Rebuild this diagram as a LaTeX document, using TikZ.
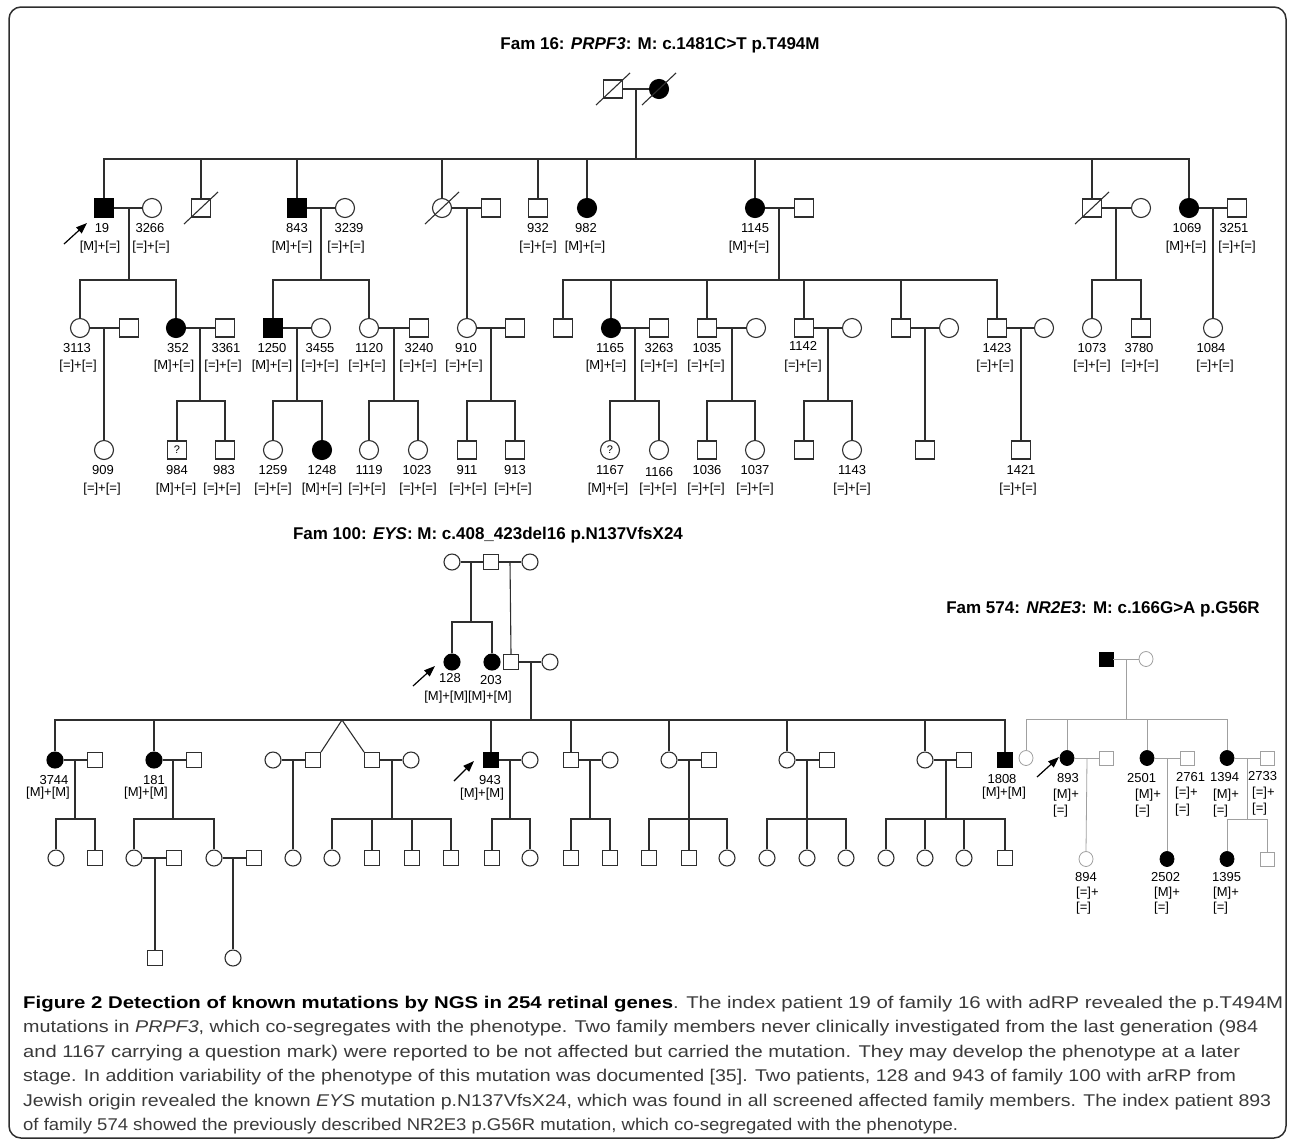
\documentclass[tikz,border=0pt]{standalone}
\usepackage{fontspec}
\setmainfont{Liberation Sans}
\usetikzlibrary{shapes.geometric,arrows.meta}
\definecolor{ln}{HTML}{2E2E2E}
\definecolor{lg}{HTML}{A0A0A0}
\definecolor{capc}{HTML}{3A3A3A}
\tikzset{
 ped/.style={line width=1.1pt, draw=ln},
 gped/.style={line width=0.8pt, draw=lg},
 M/.style={rectangle, draw=ln, line width=1.1pt, minimum width=19pt, minimum height=18pt, inner sep=0pt, fill=white},
 F/.style={ellipse, draw=ln, line width=1.1pt, minimum width=19pt, minimum height=19pt, inner sep=0pt, fill=white},
 aff/.style={fill=black, draw=black},
 Ms/.style={M, minimum width=15pt, minimum height=15pt},
 Fs/.style={F, minimum width=16pt, minimum height=16pt},
 Mg/.style={M, draw=lg, line width=0.8pt, minimum width=14pt, minimum height=14pt},
 Fg/.style={F, draw=lg, line width=0.8pt, minimum width=14pt, minimum height=15pt},
 lab/.style={font=\fontsize{13}{13}\selectfont, inner sep=0pt, text=black},
 labw/.style={lab, anchor=west},
 ttl/.style={font=\fontsize{17}{17}\selectfont\bfseries, inner sep=0pt},
 pro/.style={-{Triangle[length=11pt,width=8pt]}, line width=1.2pt, draw=black, fill=black},
 qm/.style={font=\fontsize{11}{11}\selectfont},
 capn/.style={anchor=base west, inner sep=0pt, text=capc},
}
\newlength\capw
\newcommand\capfnt{\fontsize{17}{24}\selectfont}
\newcommand\fitline[2]{\settowidth\capw{\capfnt #2}\pgfmathsetmacro\capsx{#1/\capw}\scalebox{\capsx}[1]{\capfnt #2}}
\newcommand\IL[6]{\node[lab] (n#1) at (#2,#4) {#1}; \node[lab] (g#1) at (#3,#5) {#6};}
\newcommand\ILC[8]{\node[labw] (n#1) at (#2,#3) {#1}; \node[labw] (g#1) at (#4,#5) {#6}; \node[labw] (h#1) at (#4,#7) {#8};}
\newcommand\dead[1]{\draw[ped] ([shift={(-17,16)}]#1.center) -- ([shift={(17,-16)}]#1.center);}
\begin{document}
\begin{tikzpicture}[x=1pt,y=-1pt]
\useasboundingbox (0,0) rectangle (1292,1144);
\draw[line width=1.5pt, draw=ln, rounded corners=12pt] (9,7) rectangle (1286,1138);

% ================= Fam 16 =================
\node[ttl] (t16) at (660,45) {Fam 16: \textit{PRPF3}: M: c.1481C>T p.T494M};
% generation I
\node[M] (A0m) at (613,89) {};
\node[F,aff] (A0f) at (659,89) {};
\draw[ped] (A0m) -- (A0f);
\dead{A0m} \dead{A0f}
\coordinate (mA0) at (636,89); \coordinate (sA0) at (636,159);
% generation II
\node[M,aff] (A19) at (104,208) {};
\node[F] (A3266) at (152,208) {};
\node[M] (Ad1) at (201,208) {};
\node[M,aff] (A843) at (297,208) {};
\node[F] (A3239) at (345,208) {};
\node[F] (Ad2) at (442,208) {};
\node[M] (Ax2) at (491,208) {};
\node[M] (A932) at (538,208) {};
\node[F,aff] (A982) at (587,208) {};
\node[F,aff] (A1145) at (755,208) {};
\node[M] (Ax3) at (804,208) {};
\node[M] (Ad3) at (1092,208) {};
\node[F] (Ax4) at (1141,208) {};
\node[F,aff] (A1069) at (1189,208) {};
\node[M] (A3251) at (1237,208) {};
\dead{Ad1} \dead{Ad2} \dead{Ad3}
\draw[ped] (mA0) -- (sA0);
\draw[ped] (A19.north) |- (sA0) -| (A1069.north);
\foreach \n in {Ad1,A843,Ad2,A932,A982,A1145,Ad3} \draw[ped] (\n.north) -- (\n.north |- sA0);
\draw[ped] (A19) -- (A3266);
\draw[ped] (A843) -- (A3239);
\draw[ped] (Ad2) -- (Ax2);
\draw[ped] (A1145) -- (Ax3);
\draw[ped] (Ad3) -- (Ax4);
\draw[ped] (A1069) -- (A3251);
\IL{19}{102}{100}{228}{247}{[M]+[=]}
\IL{3266}{150}{151}{228}{247}{[=]+[=]}
\IL{843}{297}{292}{228}{247}{[M]+[=]}
\IL{3239}{349}{346}{228}{247}{[=]+[=]}
\IL{932}{538}{538}{228}{247}{[=]+[=]}
\IL{982}{586}{585}{228}{247}{[M]+[=]}
\IL{1145}{755}{749}{228}{247}{[M]+[=]}
\IL{1069}{1187}{1186}{228}{247}{[M]+[=]}
\IL{3251}{1234}{1237}{228}{247}{[=]+[=]}
\coordinate (ar19a) at (64,244); \coordinate (ar19b) at (87,223);
\draw[pro] (ar19a) -- (ar19b);
% generation III
\node[F] (A3113) at (80,328) {};
\node[M] (Ax5) at (129,328) {};
\node[F,aff] (A352) at (176,328) {};
\node[M] (A3361) at (225,328) {};
\node[M,aff] (A1250) at (273,328) {};
\node[F] (A3455) at (321,328) {};
\node[F] (A1120) at (369,328) {};
\node[M] (A3240) at (419,328) {};
\node[F] (A910) at (467,328) {};
\node[M] (Ax6) at (515,328) {};
\node[M] (Ax7) at (563,328) {};
\node[F,aff] (A1165) at (611,328) {};
\node[M] (A3263) at (659,328) {};
\node[M] (A1035) at (707,328) {};
\node[F] (Ax8) at (756,328) {};
\node[M] (A1142) at (804,328) {};
\node[F] (Ax9) at (852,328) {};
\node[M] (Ax10) at (901,328) {};
\node[F] (Ax11) at (949,328) {};
\node[M] (A1423) at (997,328) {};
\node[F] (Ax12) at (1044,328) {};
\node[F] (A1073) at (1092,328) {};
\node[M] (A3780) at (1141,328) {};
\node[F] (A1084) at (1213,328) {};
% descents gen II -> III
\coordinate (mA19) at (129,208); \coordinate (sA19) at (129,280);
\draw[ped] (mA19) -- (sA19);
\draw[ped] (A3113.north) |- (sA19) -| (A352.north);
\coordinate (mA843) at (321,208); \coordinate (sA843) at (321,280);
\draw[ped] (mA843) -- (sA843);
\draw[ped] (A1250.north) |- (sA843) -| (A1120.north);
\coordinate (mAd2) at (467,208);
\draw[ped] (mAd2) -- (A910.north);
\coordinate (mA1145) at (779,208); \coordinate (sA1145) at (779,280);
\draw[ped] (mA1145) -- (sA1145);
\draw[ped] (Ax7.north) |- (sA1145) -| (A1423.north);
\foreach \n in {A1165,A1035,A1142,Ax10} \draw[ped] (\n.north) -- (\n.north |- sA1145);
\coordinate (mAd3) at (1116,208); \coordinate (sAd3) at (1116,280);
\draw[ped] (mAd3) -- (sAd3);
\draw[ped] (A1073.north) |- (sAd3) -| (A3780.north);
\coordinate (mA1069) at (1213,208);
\draw[ped] (mA1069) -- (A1084.north);
% marriages gen III
\draw[ped] (A3113) -- (Ax5);
\draw[ped] (A352) -- (A3361);
\draw[ped] (A1250) -- (A3455);
\draw[ped] (A1120) -- (A3240);
\draw[ped] (A910) -- (Ax6);
\draw[ped] (A1165) -- (A3263);
\draw[ped] (A1035) -- (Ax8);
\draw[ped] (A1142) -- (Ax9);
\draw[ped] (Ax10) -- (Ax11);
\draw[ped] (A1423) -- (Ax12);
\IL{3113}{77}{78}{348}{366}{[=]+[=]}
\IL{352}{178}{174}{348}{366}{[M]+[=]}
\IL{3361}{226}{223}{348}{366}{[=]+[=]}
\IL{1250}{272}{272}{348}{366}{[M]+[=]}
\IL{3455}{320}{320}{348}{366}{[=]+[=]}
\IL{1120}{369}{367}{348}{366}{[=]+[=]}
\IL{3240}{419}{418}{348}{366}{[=]+[=]}
\IL{910}{466}{464}{348}{366}{[=]+[=]}
\IL{1165}{610}{606}{348}{366}{[M]+[=]}
\IL{3263}{659}{659}{348}{366}{[=]+[=]}
\IL{1035}{707}{706}{348}{366}{[=]+[=]}
\IL{1142}{803}{803}{346}{366}{[=]+[=]}
\IL{1423}{997}{995}{348}{366}{[=]+[=]}
\IL{1073}{1092}{1092}{348}{366}{[=]+[=]}
\IL{3780}{1139}{1140}{348}{366}{[=]+[=]}
\IL{1084}{1211}{1215}{348}{366}{[=]+[=]}
% generation IV
\node[F] (A909) at (104,450) {};
\node[M,qm] (A984) at (177,450) {?};
\node[M] (A983) at (225,450) {};
\node[F] (A1259) at (273,450) {};
\node[F,aff] (A1248) at (322,450) {};
\node[F] (A1119) at (369,450) {};
\node[F] (A1023) at (418,450) {};
\node[M] (A911) at (467,450) {};
\node[M] (A913) at (515,450) {};
\node[F,qm] (A1167) at (610,450) {?};
\node[F] (A1166) at (659,450) {};
\node[M] (A1036) at (707,450) {};
\node[F] (A1037) at (755,450) {};
\node[M] (Ax13) at (804,450) {};
\node[F] (A1143) at (852,450) {};
\node[M] (Ax14) at (925,450) {};
\node[M] (A1421) at (1021,450) {};
\coordinate (mA3113) at (104,328);
\draw[ped] (mA3113) -- (A909.north);
\coordinate (mA352) at (200,328); \coordinate (sA352) at (200,401);
\draw[ped] (mA352) -- (sA352); \draw[ped] (A984.north) |- (sA352) -| (A983.north);
\coordinate (mA1250) at (297,328); \coordinate (sA1250) at (297,401);
\draw[ped] (mA1250) -- (sA1250); \draw[ped] (A1259.north) |- (sA1250) -| (A1248.north);
\coordinate (mA1120) at (394,328); \coordinate (sA1120) at (394,401);
\draw[ped] (mA1120) -- (sA1120); \draw[ped] (A1119.north) |- (sA1120) -| (A1023.north);
\coordinate (mA910) at (491,328); \coordinate (sA910) at (491,401);
\draw[ped] (mA910) -- (sA910); \draw[ped] (A911.north) |- (sA910) -| (A913.north);
\coordinate (mA1165) at (635,328); \coordinate (sA1165) at (635,401);
\draw[ped] (mA1165) -- (sA1165); \draw[ped] (A1167.north) |- (sA1165) -| (A1166.north);
\coordinate (mA1035) at (732,328); \coordinate (sA1035) at (732,401);
\draw[ped] (mA1035) -- (sA1035); \draw[ped] (A1036.north) |- (sA1035) -| (A1037.north);
\coordinate (mA1142) at (828,328); \coordinate (sA1142) at (828,401);
\draw[ped] (mA1142) -- (sA1142); \draw[ped] (Ax13.north) |- (sA1142) -| (A1143.north);
\coordinate (mAx10) at (925,328);
\draw[ped] (mAx10) -- (Ax14.north);
\coordinate (mA1423) at (1021,328);
\draw[ped] (mA1423) -- (A1421.north);
\IL{909}{103}{102}{470}{489}{[=]+[=]}
\IL{984}{177}{176}{470}{489}{[M]+[=]}
\IL{983}{224}{222}{470}{489}{[=]+[=]}
\IL{1259}{273}{273}{470}{489}{[=]+[=]}
\IL{1248}{322}{322}{470}{489}{[M]+[=]}
\IL{1119}{369}{367}{470}{489}{[=]+[=]}
\IL{1023}{417}{418}{470}{489}{[=]+[=]}
\IL{911}{467}{468}{470}{489}{[=]+[=]}
\IL{913}{515}{513}{470}{489}{[=]+[=]}
\IL{1167}{610}{608}{470}{489}{[M]+[=]}
\IL{1166}{659}{658}{472}{489}{[=]+[=]}
\IL{1036}{707}{706}{470}{489}{[=]+[=]}
\IL{1037}{755}{755}{470}{489}{[=]+[=]}
\IL{1143}{852}{852}{470}{489}{[=]+[=]}
\IL{1421}{1021}{1018}{470}{489}{[=]+[=]}

% ================= Fam 100 =================
\node[ttl] (t100) at (488,535) {Fam 100: \textit{EYS}: M: c.408\_423del16 p.N137VfsX24};
\node[Fs] (Bt1) at (452,562) {};
\node[Ms] (Bt2) at (491,562) {};
\node[Fs] (Bt3) at (530,562) {};
\draw[ped] (Bt1) -- (Bt2); \draw[ped] (Bt2) -- (Bt3);
\node[Fs,aff] (B128) at (452,662) {};
\node[Fs,aff] (B203) at (492,662) {};
\node[Ms] (Bh) at (511,662) {};
\node[Fs] (Bw) at (550,662) {};
\draw[ped] (Bh) -- (Bw);
\coordinate (mBt1) at (471,562); \coordinate (sBt1) at (471,622);
\draw[ped] (mBt1) -- (sBt1); \draw[ped] (B128.north) |- (sBt1) -| (B203.north);
\coordinate (mBt2) at (510,562);
\draw[ped] (mBt2) -- (Bh.north);
\node[lab] (n128) at (450,678) {128};
\node[lab] (n203) at (491,680) {203};
\node[lab] (g128) at (468,697) {[M]+[M][M]+[M]};
\coordinate (ar128a) at (413,686); \coordinate (ar128b) at (435,666);
\draw[pro] (ar128a) -- (ar128b);
% generation
\node[Fs,aff] (B3744) at (55,760) {};
\node[Ms] (Bx1) at (95,760) {};
\node[Fs,aff] (B181) at (154,760) {};
\node[Ms] (Bx2) at (194,760) {};
\node[Fs] (Bx3) at (273,760) {};
\node[Ms] (Bx4) at (313,760) {};
\node[Ms] (Bx5) at (372,760) {};
\node[Fs] (Bx6) at (411,760) {};
\node[Ms,aff] (B943) at (491,760) {};
\node[Fs] (Bx7) at (530,760) {};
\node[Ms] (Bx8) at (571,760) {};
\node[Fs] (Bx9) at (610,760) {};
\node[Fs] (Bx10) at (669,760) {};
\node[Ms] (Bx11) at (709,760) {};
\node[Fs] (Bx12) at (787,760) {};
\node[Ms] (Bx13) at (827,760) {};
\node[Fs] (Bx14) at (925,760) {};
\node[Ms] (Bx15) at (964,760) {};
\node[Ms,aff] (B1808) at (1005,760) {};
\coordinate (mBh) at (531,662); \coordinate (sBh) at (531,720);
\draw[ped] (mBh) -- (sBh);
\draw[ped] (B3744.north) |- (sBh) -| (B1808.north);
\foreach \n in {B181,B943,Bx8,Bx10,Bx12,Bx14} \draw[ped] (\n.north) -- (\n.north |- sBh);
\coordinate (tw) at (342,720);
\draw[ped] (tw) -- (Bx4.north east);
\draw[ped] (tw) -- (Bx5.north west);
\draw[ped] (B3744) -- (Bx1);
\draw[ped] (B181) -- (Bx2);
\draw[ped] (Bx3) -- (Bx4);
\draw[ped] (Bx5) -- (Bx6);
\draw[ped] (B943) -- (Bx7);
\draw[ped] (Bx8) -- (Bx9);
\draw[ped] (Bx10) -- (Bx11);
\draw[ped] (Bx12) -- (Bx13);
\draw[ped] (Bx14) -- (Bx15);
\IL{3744}{54}{48}{780}{793}{[M]+[M]}
\IL{181}{154}{146}{780}{793}{[M]+[M]}
\IL{943}{490}{482}{780}{794}{[M]+[M]}
\IL{1808}{1002}{1004}{779}{793}{[M]+[M]}
\coordinate (ar943a) at (454,781); \coordinate (ar943b) at (474,761);
\draw[pro] (ar943a) -- (ar943b);
% next generation
\node[Fs] (By1) at (56,858) {};
\node[Ms] (By2) at (95,858) {};
\node[Fs] (By3) at (134,858) {};
\node[Ms] (By4) at (174,858) {};
\node[Fs] (By5) at (214,858) {};
\node[Ms] (By6) at (254,858) {};
\node[Fs] (By7) at (293,858) {};
\node[Fs] (By8) at (332,858) {};
\node[Ms] (By9) at (372,858) {};
\node[Ms] (By10) at (412,858) {};
\node[Ms] (By11) at (451,858) {};
\node[Ms] (By12) at (492,858) {};
\node[Fs] (By13) at (530,858) {};
\node[Ms] (By14) at (571,858) {};
\node[Ms] (By15) at (610,858) {};
\node[Ms] (By16) at (649,858) {};
\node[Ms] (By17) at (689,858) {};
\node[Fs] (By18) at (727,858) {};
\node[Fs] (By19) at (767,858) {};
\node[Fs] (By20) at (807,858) {};
\node[Fs] (By21) at (846,858) {};
\node[Fs] (By22) at (886,858) {};
\node[Fs] (By23) at (925,858) {};
\node[Fs] (By24) at (964,858) {};
\node[Ms] (By25) at (1005,858) {};
\coordinate (mB3744) at (75,760); \coordinate (sB3744) at (75,819);
\draw[ped] (mB3744) -- (sB3744); \draw[ped] (By1.north) |- (sB3744) -| (By2.north);
\coordinate (mB181) at (173,760); \coordinate (sB181) at (173,819);
\draw[ped] (mB181) -- (sB181); \draw[ped] (By3.north) |- (sB181) -| (By5.north);
\coordinate (mBx3) at (293,760);
\draw[ped] (mBx3) -- (By7.north);
\coordinate (mBx5) at (392,760); \coordinate (sBx5) at (392,819);
\draw[ped] (mBx5) -- (sBx5); \draw[ped] (By8.north) |- (sBx5) -| (By11.north);
\foreach \n in {By9,By10} \draw[ped] (\n.north) -- (\n.north |- sBx5);
\coordinate (mB943) at (510,760); \coordinate (sB943) at (510,819);
\draw[ped] (mB943) -- (sB943); \draw[ped] (By12.north) |- (sB943) -| (By13.north);
\coordinate (mBx8) at (590,760); \coordinate (sBx8) at (590,819);
\draw[ped] (mBx8) -- (sBx8); \draw[ped] (By14.north) |- (sBx8) -| (By15.north);
\coordinate (mBx10) at (689,760); \coordinate (sBx10) at (689,819);
\draw[ped] (mBx10) -- (sBx10); \draw[ped] (By16.north) |- (sBx10) -| (By18.north);
\draw[ped] (By17.north) -- (By17.north |- sBx10);
\coordinate (mBx12) at (807,760); \coordinate (sBx12) at (807,819);
\draw[ped] (mBx12) -- (sBx12); \draw[ped] (By19.north) |- (sBx12) -| (By21.north);
\draw[ped] (By20.north) -- (By20.north |- sBx12);
\coordinate (mBx14) at (946,760); \coordinate (sBx14) at (946,819);
\draw[ped] (mBx14) -- (sBx14); \draw[ped] (By22.north) |- (sBx14) -| (By25.north);
\foreach \n in {By23,By24} \draw[ped] (\n.north) -- (\n.north |- sBx14);
\draw[ped] (By3) -- (By4);
\draw[ped] (By5) -- (By6);
\node[Ms] (Bz1) at (155,958) {};
\node[Fs] (Bz2) at (233,958) {};
\coordinate (mBy3) at (155,858); \draw[ped] (mBy3) -- (Bz1.north);
\coordinate (mBy5) at (233,858); \draw[ped] (mBy5) -- (Bz2.north);

% ================= Fam 574 =================
\node[ttl] (t574) at (1103,609) {Fam 574: \textit{NR2E3}: M: c.166G>A p.G56R};
\node[Mg,aff] (C0m) at (1106,659) {};
\node[Fg] (C0f) at (1146,659) {};
\draw[gped] (C0m) -- (C0f);
\node[Fg] (Cx1) at (1026,758) {};
\node[Fg,aff] (C893) at (1067,758) {};
\node[Mg] (Cx2) at (1106,758) {};
\node[Fg,aff] (C2501) at (1147,758) {};
\node[Mg] (C2761) at (1187,758) {};
\node[Fg,aff] (C1394) at (1227,758) {};
\node[Mg] (C2733) at (1267,758) {};
\coordinate (mC0) at (1126,659); \coordinate (sC0) at (1126,719);
\draw[gped] (mC0) -- (sC0);
\draw[gped] (Cx1.north) |- (sC0) -| (C1394.north);
\foreach \n in {C893,C2501} \draw[gped] (\n.north) -- (\n.north |- sC0);
\draw[gped] (C893) -- (Cx2);
\draw[gped] (C2501) -- (C2761);
\draw[gped] (C1394) -- (C2733);
\node[Fg] (C894) at (1086,859) {};
\node[Fg,aff] (C2502) at (1167,859) {};
\node[Fg,aff] (C1395) at (1227,859) {};
\node[Mg] (Cx3) at (1267,859) {};
\coordinate (mC893) at (1087,758); \draw[gped] (mC893) -- (C894.north);
\coordinate (mC2501) at (1167,758); \draw[gped] (mC2501) -- (C2502.north);
\coordinate (mC1394) at (1247,758); \coordinate (sC1394) at (1247,819);
\draw[gped] (mC1394) -- (sC1394); \draw[gped] (C1395.north) |- (sC1394) -| (Cx3.north);
\ILC{893}{1057}{778}{1053}{795}{[M]+}{811}{[=]}
\ILC{2501}{1127}{778}{1135}{795}{[M]+}{811}{[=]}
\ILC{2761}{1176}{777}{1175}{793}{[=]+}{810}{[=]}
\ILC{1394}{1210}{777}{1213}{795}{[M]+}{811}{[=]}
\ILC{2733}{1248}{776}{1252}{793}{[=]+}{809}{[=]}
\ILC{894}{1075}{877}{1076}{893}{[=]+}{908}{[=]}
\ILC{2502}{1151}{877}{1154}{893}{[M]+}{908}{[=]}
\ILC{1395}{1212}{877}{1213}{893}{[M]+}{908}{[=]}
\coordinate (ar893a) at (1037,777); \coordinate (ar893b) at (1059,757);
\draw[pro] (ar893a) -- (ar893b);

% ================= Caption =================
\node[capn] (cap1) at (23,1008) {\fitline{1260}{{\color{black}\bfseries Figure 2 Detection of known mutations by NGS in 254 retinal genes}. The index patient 19 of family 16 with adRP revealed the p.T494M}};
\node[capn] (cap2) at (23,1032.5) {\fitline{1235}{mutations in \textit{PRPF3}, which co-segregates with the phenotype. Two family members never clinically investigated from the last generation (984}};
\node[capn] (cap3) at (23,1057) {\fitline{1217}{and 1167 carrying a question mark) were reported to be not affected but carried the mutation. They may develop the phenotype at a later}};
\node[capn] (cap4) at (23,1081.5) {\fitline{1213}{stage. In addition variability of the phenotype of this mutation was documented [35]. Two patients, 128 and 943 of family 100 with arRP from}};
\node[capn] (cap5) at (23,1106) {\fitline{1248}{Jewish origin revealed the known \textit{EYS} mutation p.N137VfsX24, which was found in all screened affected family members. The index patient 893}};
\node[capn] (cap6) at (23,1130.5) {\fitline{935}{of family 574 showed the previously described NR2E3 p.G56R mutation, which co-segregated with the phenotype.}};
\end{tikzpicture}
\end{document}
